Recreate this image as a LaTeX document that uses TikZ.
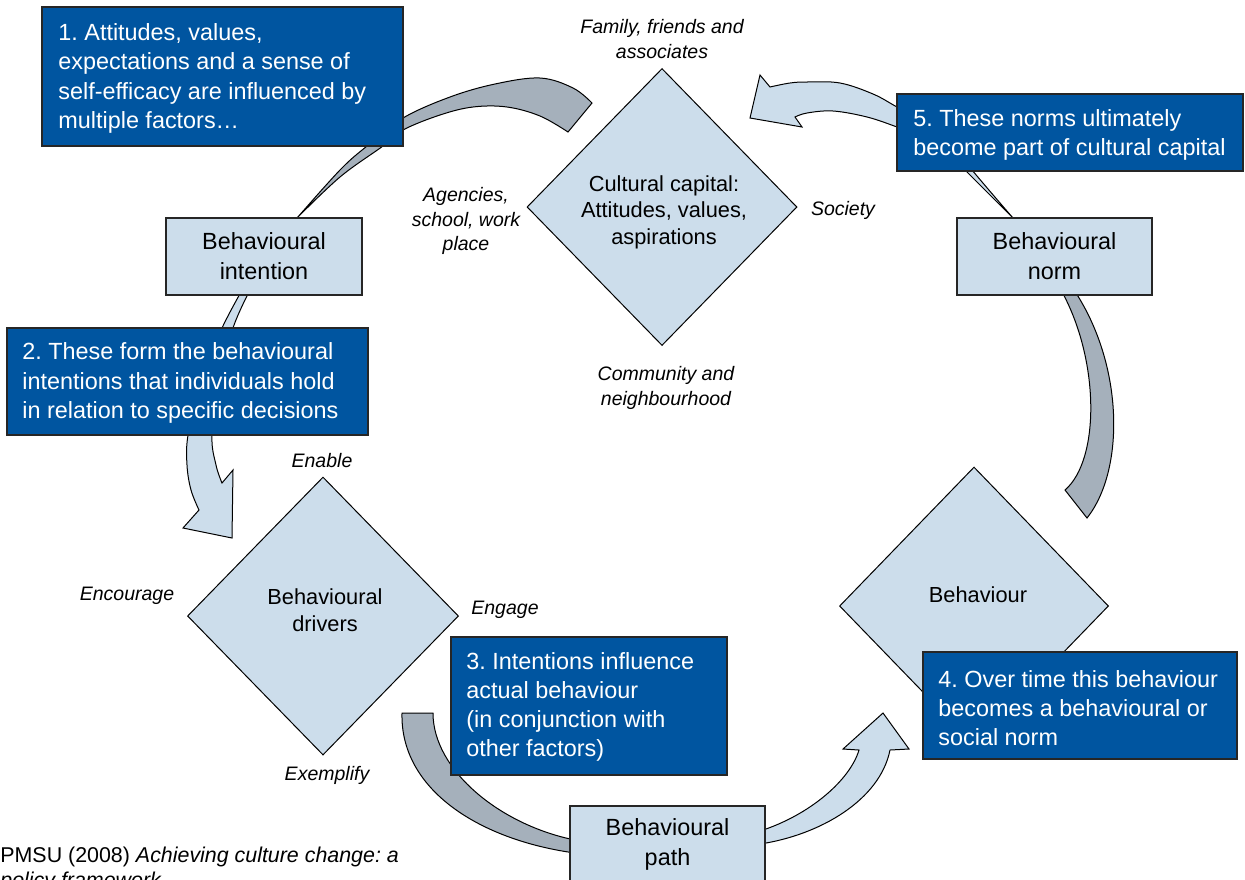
\documentclass[tikz,border=0pt]{standalone}
\usepackage{fontspec}
\setmainfont{Liberation Sans}
\usetikzlibrary{shapes.geometric}
\definecolor{navy}{HTML}{0055A0}
\definecolor{pale}{HTML}{CCDDEB}
\definecolor{slate}{HTML}{A5B0BB}
\frenchspacing
\begin{document}
\begin{tikzpicture}[x=0.5pt,y=-0.5pt,
  bluebox/.style={draw=black!85, line width=0.6pt, fill=navy, inner sep=0pt},
  btext/.style={text=white, font=\fontsize{11.7}{14.6}\selectfont, align=left, inner sep=0pt, anchor=west},
  palebox/.style={draw=black!85, line width=0.6pt, fill=pale, font=\fontsize{11.7}{15}\selectfont, align=center, inner sep=0pt},
  diam/.style={diamond, draw=black, line width=0.5pt, fill=pale, inner sep=0pt},
  dtext/.style={font=\fontsize{10.9}{13.3}\selectfont, align=center, inner sep=0pt},
  lbl/.style={font=\fontsize{9.75}{12.3}\selectfont\itshape, align=center, inner sep=0pt},
  greyarrow/.style={fill=slate, draw=black, line width=0.5pt},
  palearrow/.style={fill=pale, draw=black, line width=0.5pt},
]
\path[use as bounding box] (0,0) rectangle (1245,879);
\clip (0,0) rectangle (1245,879);

% ---- block arrows ----
% A: intention -> cultural capital (grey)
\filldraw[greyarrow] plot[smooth, tension=0.6] coordinates {(297,218) (340,170) (367,146) (403,118) (450,97) (495,84) (540,78) (573,88) (592,103)}
  -- plot[smooth, tension=0.6] coordinates {(568,132) (540,116) (507,107) (473,107) (440,115) (403,130) (383,146) (340,177) (297,218)} -- cycle;
% B: intention -> drivers (pale)
\filldraw[palearrow] plot[smooth, tension=0.6] coordinates {(241,292) (222,328) (200,380) (188,435) (187,465) (191,490) (199,510)}
  -- (183,528) -- (232,538) -- (233,470) -- (222,483)
  -- plot[smooth, tension=0.6] coordinates {(222,483) (216,465) (212,435) (220,380) (233,328) (249,292)} -- cycle;
% C: drivers -> path (grey)
\filldraw[greyarrow] (402,713) .. controls (400,790) and (480,840) .. (575,853)
  -- (575,840) .. controls (500,825) and (433,770) .. (433,713) -- cycle;
% D: path -> behaviour (pale)
\filldraw[palearrow] (760,831) .. controls (810,815) and (850,780) .. (859,750)
  -- (843,749) -- (883,713) -- (909,749) -- (890,750)
  .. controls (880,800) and (820,835) .. (760,844) -- cycle;
% E: norm -> behaviour (grey)
\filldraw[greyarrow] (1061,290) .. controls (1100,360) and (1100,460) .. (1065,490)
  -- (1087,518) .. controls (1125,470) and (1124,365) .. (1074,290) -- cycle;
% F: norm -> cultural capital (pale)
\filldraw[palearrow] plot[smooth, tension=0.6] coordinates {(1013,218) (972,170) (955,147) (930,125) (897,107) (873,94) (840,83) (807,82) (790,83) (770,87)}
  -- (760,75) -- (750,118) -- (802,127) -- (795,117)
  -- plot[smooth, tension=0.6] coordinates {(795,117) (807,113) (833,111) (867,117) (897,127) (920,136) (945,150) (965,170) (1013,218)} -- cycle;

% ---- diamonds ----
\node[diam, minimum width=135pt, minimum height=138.5pt] (cc) at (662,207) {};
\node[diam, minimum width=135.5pt, minimum height=139pt] (drv) at (323,616) {};
\node[diam, minimum width=134.5pt, minimum height=139pt] (beh) at (974,606) {};
\node[dtext] (cct) at (664,212) {Cultural capital:\\Attitudes, values,\\aspirations};
\node[dtext] (drvt) at (325,610) {Behavioural\\drivers};
\node[dtext] (beht) at (978,595) {Behaviour};

% ---- pale boxes ----
\node[palebox, minimum width=98pt, minimum height=38.5pt] (bi) at (264,256.5) {Behavioural\\intention};
\node[palebox, minimum width=97.5pt, minimum height=38.5pt] (bn) at (1054.5,256.5) {Behavioural\\norm};
\node[palebox, minimum width=97.5pt, minimum height=38.5pt] (bp) at (667.5,844.5) {Behavioural\\path};

% ---- blue boxes ----
\node[bluebox, minimum width=180.5pt, minimum height=69.5pt] (b1) at (222.5,76.5) {};
\node[btext] (t1) at (58,78.5) {1. Attitudes, values,\\expectations and a sense of\\self-efficacy are influenced by\\multiple factors…};
\node[bluebox, minimum width=180.5pt, minimum height=53.5pt] (b2) at (187.5,381.5) {};
\node[btext] (t2) at (22,383) {2. These form the behavioural\\intentions that individuals hold\\in relation to specific decisions};
\node[bluebox, minimum width=138pt, minimum height=69pt] (b3) at (589,706) {};
\node[btext] (t3) at (466,707) {3. Intentions influence\\actual behaviour\\(in conjunction with\\other factors)};
\node[bluebox, minimum width=157pt, minimum height=53.5pt] (b4) at (1080,705.5) {};
\node[btext] (t4) at (938,708) {4. Over time this behaviour\\becomes a behavioural or\\social norm};
\node[bluebox, minimum width=173pt, minimum height=38.5pt] (b5) at (1070,132.5) {};
\node[btext] (t5) at (913,135) {5. These norms ultimately\\become part of cultural capital};

% ---- italic labels ----
\node[lbl] (l1) at (662,39) {Family, friends and\\associates};
\node[lbl] (l2) at (466,221) {Agencies,\\school, work\\place};
\node[lbl] (l3) at (843,210) {Society};
\node[lbl] (l4) at (666,388) {Community and\\neighbourhood};
\node[lbl] (l5) at (322,461) {Enable};
\node[lbl] (l6) at (127,596) {Encourage};
\node[lbl] (l7) at (505,610) {Engage};
\node[lbl] (l8) at (327,775) {Exemplify};

% ---- citation ----
\node[anchor=west, inner sep=0pt, align=left, font=\fontsize{10.7}{12.5}\selectfont] (cite) at (0,869.5) {PMSU (2008) \textit{Achieving culture change: a}\\\textit{policy framework}};
\end{tikzpicture}
\end{document}
